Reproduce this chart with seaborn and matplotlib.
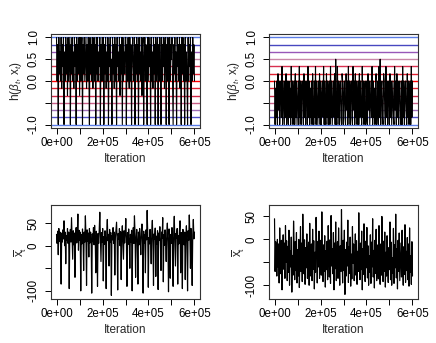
import numpy as np
import matplotlib
matplotlib.use("Agg")
import matplotlib.pyplot as plt
import seaborn as sns

# trace of h(beta_t, x_t), stored in sixths (levels -6..6)
h_left_sixths = [
    6, 0, 5, -6, 6, 1, 4, 0, 6, -1, 5, 2, 6, -6, 4, 0, 6, 1, 5, -2,
    6, 0, 3, 6, -6, 5, 1, 6, 0, 4, -1, 6, 2, 5, -6, 6, 0, 5, 1, 6,
    -2, 6, 0, 4, 6, -6, 5, 1, 6, 0, 3, 6, -1, 5, 0, 6, 2, -6, 6, 1,
    5, 0, 6, -1, 4, 6, 0, 5, -6, 6, 1, 6, 0, 4, 2, 6, -6, 5, 0, 6,
    0, 6, -6, 5, 1, 6, -1, 4, 0, 6, -6, 5, 2, 6, 0, 3, -6, 6, 1, 5,
    -1, 6, 0, 5, -6, 6, 2, 4, 0, 6, -2, 5, 1, 6, -6, 6, 0, 4, 1, 6,
    6, -6, 5, 0, 6, 1, -1, 6, 0, 5, -6, 4, 6, 2, 0, 6, -6, 5, 1, 6,
    0, 5, -6, 6, 1, 4, 0, 6, -2, 5, 6, -6, 3, 6, 0, 5, 1, -6, 6, 0,
    6, 2, 5, -6, 6, 0, 4, -1, 6, 1, 5, -6, 6, 0, 3, 6, -6, 5, 0, 6,
    1, -6, 6, 0, 5, 2, 6, -1, 4, 6, -6, 5, 0, 6, 1, -6, 6, 0, 5, 3,
    6, 0, -6, 5, 1, 6, 0, 4, -6, 6, 2, 5, 0, 6, -1, 5, -6, 6, 1, 6,
    0, 5, -6, 6, 0, 4, 1, -6, 6, 0, 5, 2, 6, -6, 4, 0, 6, 1, 5, 0,
]
h_right_sixths = [
    0, -6, -1, -5, 0, -6, 1, -4, 0, -6, -2, 0, -5, 2, -6, 0, -3, -6, 0, -5,
    1, -6, 0, -4, -6, 0, -5, -1, -6, 2, -5, 0, -6, -2, 0, -6, 1, -5, 0, -6,
    -3, 0, -6, 2, -5, 0, -6, -1, 0, -4, -6, 1, -5, 0, -6, -2, 0, -6, 2, -5,
    0, -6, -1, -5, 0, -6, 1, -4, -6, 0, -5, 2, -6, 0, -3, -6, 0, -5, 1, -6,
    0, -6, -2, 0, -5, 2, -6, 0, -4, -6, 1, -5, 0, -6, -1, 0, -6, 2, -5, 0,
    -6, -3, 0, -5, 1, -6, 3, -4, -6, 2, -5, 0, -6, -1, 0, -5, -6, 1, 0, -6,
    -2, 0, -5, -6, 1, -4, 0, -6, 2, -5, 0, -6, -1, 0, -5, -6, 2, -4, 0, -6,
    1, -5, 0, -6, -2, 0, -6, 1, -5, 0, -4, -6, 2, -5, 0, -6, -1, 0, -6, -5,
    0, -6, 1, -4, 0, -6, -3, 0, -5, 2, -6, 0, -5, -1, -6, 0, 1, -6, -4, 0,
    -6, 2, -5, 3, -6, -1, 0, -5, -6, 1, 0, -4, -6, 2, -5, 0, -6, -2, 0, -6,
    1, -5, 0, -6, -3, 0, -5, -6, 2, -4, 0, -6, 1, -5, 0, -6, -1, 0, -5, -6,
    0, -6, 2, -5, 0, -6, -2, 0, -4, -6, 1, -5, 0, -6, -1, 0, -6, 2, -5, 0,
]
# trace of x-bar_t
xbar_left = [
    25, 5, 32, -20, 38, 10, 30, 2, -85, 28, 8, 35, 15, 55, 0, 30, -40, 22, 12, 38,
    5, 30, -95, 20, 36, 8, 62, 14, -30, 33, 2, 28, -70, 18, 40, 6, 25, 70, -10, 34,
    12, 30, -100, 24, 4, 37, 16, -55, 30, 8, 66, 20, -88, 35, 10, 28, -25, 38, 6, 30,
    15, -105, 26, 9, 40, 2, 45, 18, -60, 32, 12, -90, 27, 5, 36, 74, 14, -35, 29, 8,
    38, -78, 20, 3, 33, 16, -95, 30, 58, 11, 25, -45, 36, 7, 29, -110, 22, 13, 40, 5,
    30, -65, 18, 35, 52, 9, -98, 27, 14, 38, 0, 31, -75, 20, 44, 10, -30, 33, 6, 26,
    60, 15, -90, 29, 3, 37, 12, -50, 25, 8, 34, -100, 19, 40, 5, 66, 28, -70, 16, 36,
    9, -85, 30, 2, 38, 14, -20, 27, 48, 11, -105, 32, 6, 24, -60, 35, 13, 78, 29, -92,
    18, 4, 36, 10, -40, 31, 56, 7, -88, 26, 15, 39, -68, 21, 3, 33, -97, 28, 12, 42,
    6, -55, 30, 17, 62, -80, 24, 1, 35, 11, -35, 28, 50, 8, -102, 37, 19, -72, 25, 5,
    40, 13, -90, 31, 65, 9, -45, 27, 16, 38, -85, 22, 4, 34, 55, -60, 29, 10, -95, 36,
    14, 2, 30, -75, 20, 44, 8, -100, 33, 12, 68, 26, -50, 38, 6, -88, 24, 58, 15, 30,
]
xbar_right = [
    45, -70, -5, -20, -80, 0, -60, -10, -95, 25, -40, -75, -2, -110, -30, 10, -65, -8, -85, 30,
    -50, -3, -90, -15, -72, 20, -100, -25, -60, 5, -115, -35, -78, 40, -12, -88, -5, -68, 15, -95,
    -22, -80, 0, -105, -45, 28, -70, -8, -92, 55, -30, -75, -1, -98, -18, -62, 12, -85, -40, -6,
    -100, 35, -55, -80, -10, -90, 22, -65, -3, -108, -28, -72, 48, -15, -95, -5, -60, 18, -85, -35,
    -2, -78, 60, -50, -92, -12, -70, 8, -104, -25, -66, -4, -88, 30, -40, -82, -1, -96, 52, -58,
    -20, -75, 15, -110, -8, -64, 38, -90, -30, -5, -85, 25, -48, -100, -14, -70, 65, -38, -95, -2,
    -68, 20, -120, -22, -80, -6, -58, 42, -94, -16, -74, 5, -102, -32, -86, 28, -52, -10, -90, -45,
    12, -78, -3, -98, -26, -70, 58, -42, -88, -8, -66, 18, -110, -20, -76, 34, -56, -92, -4, -62,
    26, -84, -14, -100, -36, -72, 10, -96, -6, -60, 45, -82, -24, -106, -2, -74, 22, -90, -44, -12,
    -86, 30, -64, -98, -10, -78, 50, -30, -92, -4, -70, 16, -104, -28, -80, 8, -58, -94, -18, -66,
    38, -88, -6, -100, -40, -74, 24, -96, -12, -62, 55, -84, -20, -108, -2, -70, 14, -90, -48, -8,
    -82, 20, -60, -100, -16, -76, 32, -94, -26, -68, 4, -88, -10, -102, 25, -72, -36, -98, -5, -80,
]

n_iter = 600000
# reference levels k/6 from -1 to 1, and their line colours (bottom to top)
level_sixths = [-6, -5, -4, -3, -2, -1, 0, 1, 2, 3, 4, 5, 6]
level_colors = ["#5a7ce6", "#5050c8", "#a070b8", "#c86088", "#d02848", "#e02030", "#ff0000",
                "#e02030", "#d83050", "#c888a8", "#9858b8", "#4848c0", "#5a7ce6"]

x_ticks = [0, 100000, 200000, 300000, 400000, 500000, 600000]
x_ticklabels = ["0e+00", "", "2e+05", "", "4e+05", "", "6e+05"]
h_ticks = [-1.0, -0.5, 0.0, 0.5, 1.0]
h_ticklabels = ["-1.0", "", "0.0", "0.5", "1.0"]
xbar_ticks = [-100, -50, 0, 50]
xbar_ticklabels = ["-100", "", "0", "50"]

sns.set_style("ticks")
plt.rcParams["font.family"] = ["Liberation Sans", "DejaVu Sans"]
plt.rcParams["mathtext.fontset"] = "custom"
plt.rcParams["mathtext.rm"] = "Liberation Sans"
plt.rcParams["mathtext.it"] = "Liberation Sans:italic"
plt.rcParams["font.size"] = 8

fig = plt.figure(figsize=(4.36, 3.43), dpi=100)
W, H = 436, 343


def add_ax(left, top, right, bottom):
    return fig.add_axes([left / W, 1 - bottom / H, (right - left) / W, (bottom - top) / H])


def style_axis(ax, yticks, yticklabels, ylabel, ylabel_x):
    ax.set_xlim(-24000, 624000)
    ax.set_xticks(x_ticks)
    ax.set_xticklabels(x_ticklabels)
    ax.set_yticks(yticks)
    ax.set_yticklabels(yticklabels, rotation=90, va="center")
    ax.tick_params(direction="out", length=4, width=0.7, colors="black", labelsize=8.3)
    ax.tick_params(axis="x", pad=2.5)
    ax.tick_params(axis="y", pad=4)
    for s in ax.spines.values():
        s.set_visible(True)
        s.set_linewidth(0.8)
        s.set_color("#333333")
    ax.set_xlabel("Iteration", fontsize=8.5)
    ax.xaxis.set_label_coords(0.5, -0.265)
    ax.set_ylabel(ylabel, fontsize=8.5)
    ax.yaxis.set_label_coords(ylabel_x, 0.5)


def draw_h(ax, sixths):
    vals = np.array(sixths) / 6.0
    it = np.linspace(0, n_iter, len(vals))
    for k, c in zip(level_sixths, level_colors):
        ax.axhline(k / 6.0, color=c, lw=1.0, zorder=1)
    sns.lineplot(x=it, y=vals, color="black", lw=0.8, estimator=None, ax=ax, zorder=2)
    ax.set_ylim(-1.08, 1.08)
    style_axis(ax, h_ticks, h_ticklabels, r"h($\beta_t$, x$_t$)", -0.18)


def draw_xbar(ax, vals, ylim):
    it = np.linspace(0, n_iter, len(vals))
    sns.lineplot(x=it, y=vals, color="black", lw=0.85, estimator=None, ax=ax)
    ax.set_ylim(*ylim)
    style_axis(ax, xbar_ticks, xbar_ticklabels, r"$\overline{\mathrm{x}}_\mathrm{t}$", -0.145)


draw_h(add_ax(51, 34, 200, 128), h_left_sixths)
draw_h(add_ax(269, 34, 418, 128), h_right_sixths)
draw_xbar(add_ax(51, 205, 200, 299), xbar_left, (-118, 90))
draw_xbar(add_ax(269, 205, 418, 299), xbar_right, (-130, 75))

fig.savefig("out.png", dpi=100)
